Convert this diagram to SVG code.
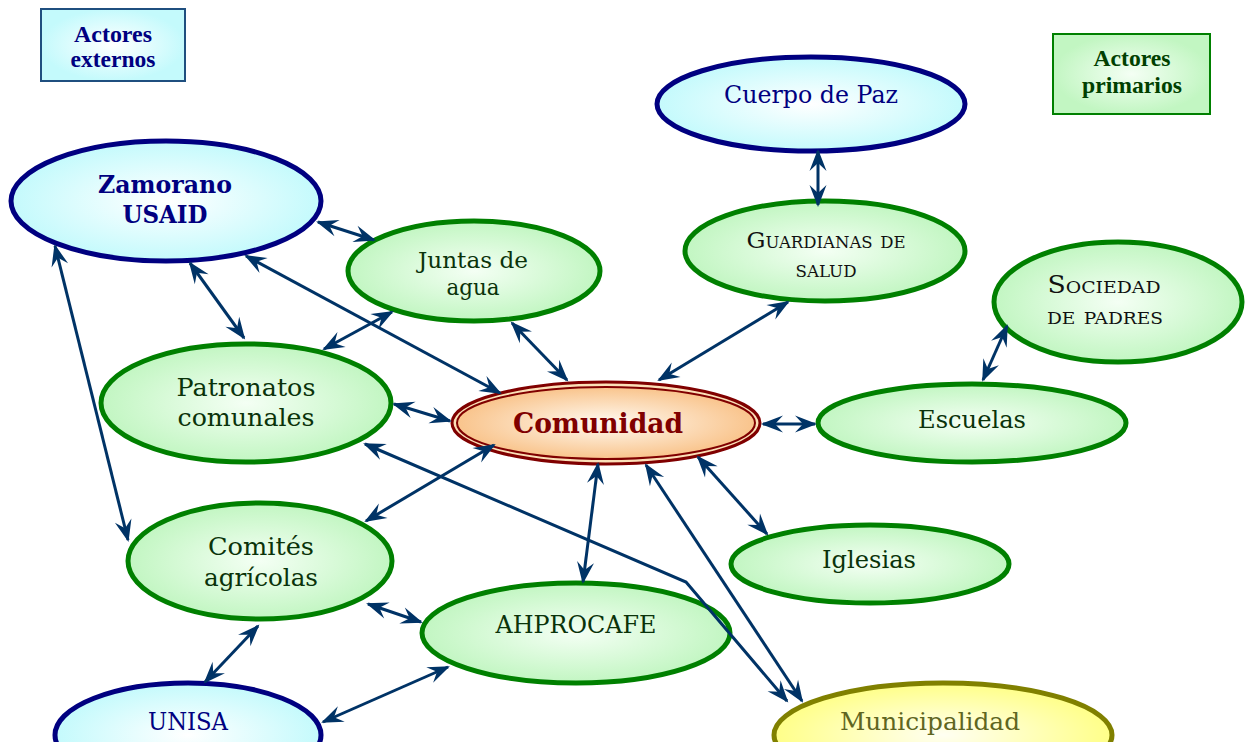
<svg xmlns="http://www.w3.org/2000/svg" width="1246" height="742" viewBox="0 0 1246 742">
<defs>
<radialGradient id="gBlue"><stop offset="0" stop-color="#ffffff"/><stop offset="1" stop-color="#c4fafc"/></radialGradient>
<radialGradient id="gGreen"><stop offset="0" stop-color="#f4fff4"/><stop offset="1" stop-color="#c2f6c2"/></radialGradient>
<radialGradient id="gOrange"><stop offset="0" stop-color="#fffaf2"/><stop offset="1" stop-color="#f9c48c"/></radialGradient>
<radialGradient id="gYellow"><stop offset="0" stop-color="#fffff2"/><stop offset="1" stop-color="#ffff88"/></radialGradient>
<marker id="ah" viewBox="-24 -10 28 20" refX="0" refY="0" markerWidth="28" markerHeight="20" markerUnits="userSpaceOnUse" orient="auto-start-reverse">
<path d="M2,0 L-20,-8.5 L-12,0 L-20,8.5 Z" fill="#003366"/>
</marker>
<style>
.ext{fill:url(#gBlue);stroke:#000080;stroke-width:5}
.pri{fill:url(#gGreen);stroke:#008000;stroke-width:5}
.t{font-family:"DejaVu Serif",serif;text-anchor:middle}
.tb{font-family:"DejaVu Serif",serif;text-anchor:middle;font-weight:bold}
.tn{fill:#000080}
.tg{fill:#0a330a}
.tk{fill:#111111}
.lg{font-family:"Liberation Serif",serif;font-weight:bold;font-size:23px;text-anchor:middle}
.c{fill:none;stroke:#003366;stroke-width:3;marker-start:url(#ah);marker-end:url(#ah)}
</style>
</defs>
<rect width="1246" height="742" fill="#ffffff"/>

<g id="legend-externos">
<rect x="41" y="9" width="144" height="72" fill="url(#gBlue)" stroke="#1f4f7f" stroke-width="2"/>
<text class="lg" x="113" y="42" fill="#000080" textLength="78" lengthAdjust="spacingAndGlyphs">Actores</text>
<text class="lg" x="113" y="67" fill="#000080" textLength="85" lengthAdjust="spacingAndGlyphs">externos</text>
</g>
<g id="legend-primarios">
<rect x="1053" y="34" width="157" height="80" fill="url(#gGreen)" stroke="#008000" stroke-width="2"/>
<text class="lg" x="1132" y="66" fill="#004000" textLength="77" lengthAdjust="spacingAndGlyphs">Actores</text>
<text class="lg" x="1132" y="93" fill="#004000" textLength="100" lengthAdjust="spacingAndGlyphs">primarios</text>
</g>

<g id="cuerpo-de-paz">
<ellipse class="ext" cx="811" cy="104" rx="154" ry="47"/>
<text class="t tn" x="811" y="103" font-size="24" textLength="174" lengthAdjust="spacingAndGlyphs">Cuerpo de Paz</text>
</g>
<g id="zamorano-usaid">
<ellipse class="ext" cx="166" cy="201" rx="155" ry="60"/>
<text class="tb tn" x="165" y="193" font-size="24" textLength="134" lengthAdjust="spacingAndGlyphs">Zamorano</text>
<text class="tb tn" x="165" y="223" font-size="24" textLength="85" lengthAdjust="spacingAndGlyphs">USAID</text>
</g>
<g id="juntas-de-agua">
<ellipse class="pri" cx="474" cy="271" rx="126" ry="50"/>
<text class="t tg" x="473" y="268" font-size="22" textLength="110" lengthAdjust="spacingAndGlyphs">Juntas de</text>
<text class="t tg" x="473" y="295" font-size="22" textLength="53" lengthAdjust="spacingAndGlyphs">agua</text>
</g>
<g id="guardianas-de-salud">
<ellipse class="pri" cx="825" cy="251" rx="140" ry="50"/>
<text class="t tk" x="826" y="248" font-size="23" font-variant="small-caps" textLength="159" lengthAdjust="spacingAndGlyphs">Guardianas de</text>
<text class="t tk" x="826" y="277" font-size="23" font-variant="small-caps" textLength="61" lengthAdjust="spacingAndGlyphs">salud</text>
</g>
<g id="sociedad-de-padres">
<ellipse class="pri" cx="1118" cy="302" rx="124" ry="60"/>
<text class="t tk" x="1104" y="293" font-size="24" font-variant="small-caps" textLength="113" lengthAdjust="spacingAndGlyphs">Sociedad</text>
<text class="t tk" x="1105" y="324" font-size="24" font-variant="small-caps" textLength="116" lengthAdjust="spacingAndGlyphs">de padres</text>
</g>
<g id="patronatos-comunales">
<ellipse class="pri" cx="246" cy="403" rx="145" ry="59"/>
<text class="t tg" x="246" y="396" font-size="24" textLength="139" lengthAdjust="spacingAndGlyphs">Patronatos</text>
<text class="t tg" x="246" y="426" font-size="24" textLength="137" lengthAdjust="spacingAndGlyphs">comunales</text>
</g>
<g id="comunidad">
<ellipse cx="606" cy="423" rx="154" ry="41" fill="#fbe0b8" stroke="#800000" stroke-width="3"/>
<ellipse cx="606" cy="423" rx="149" ry="36" fill="url(#gOrange)" stroke="#800000" stroke-width="2"/>
<text class="tb" x="598" y="433" font-size="28" fill="#800000" textLength="170" lengthAdjust="spacingAndGlyphs">Comunidad</text>
</g>
<g id="escuelas">
<ellipse class="pri" cx="972" cy="423" rx="154" ry="39"/>
<text class="t tg" x="972" y="428" font-size="24" textLength="108" lengthAdjust="spacingAndGlyphs">Escuelas</text>
</g>
<g id="iglesias">
<ellipse class="pri" cx="870" cy="564" rx="139" ry="39"/>
<text class="t tg" x="869" y="568" font-size="24" textLength="94" lengthAdjust="spacingAndGlyphs">Iglesias</text>
</g>
<g id="comites-agricolas">
<ellipse class="pri" cx="260" cy="561" rx="132" ry="58"/>
<text class="t tg" x="261" y="555" font-size="24" textLength="106" lengthAdjust="spacingAndGlyphs">Comités</text>
<text class="t tg" x="261" y="586" font-size="24" textLength="114" lengthAdjust="spacingAndGlyphs">agrícolas</text>
</g>
<g id="ahprocafe">
<ellipse class="pri" cx="576" cy="633" rx="154" ry="50"/>
<text class="t tg" x="576" y="633" font-size="24" textLength="161" lengthAdjust="spacingAndGlyphs">AHPROCAFE</text>
</g>
<g id="unisa">
<ellipse class="ext" cx="188" cy="735" rx="133" ry="52"/>
<text class="t tn" x="188" y="730" font-size="24" textLength="80" lengthAdjust="spacingAndGlyphs">UNISA</text>
</g>
<g id="municipalidad">
<ellipse cx="943" cy="735" rx="169" ry="52" fill="url(#gYellow)" stroke="#808000" stroke-width="5"/>
<text class="t" x="930" y="730" font-size="24" fill="#5f661f" textLength="180" lengthAdjust="spacingAndGlyphs">Municipalidad</text>
</g>

<g id="connectors">
<path class="c" d="M818,151 L818,205"/>
<path class="c" d="M318,222 L374,240"/>
<path class="c" d="M190,263 L244,338"/>
<path class="c" d="M246,256 L500,393"/>
<path class="c" d="M55,246 L128,540"/>
<path class="c" d="M392,312 L324,349"/>
<path class="c" d="M512,323 L567,380"/>
<path class="c" d="M788,302 L659,380"/>
<path class="c" d="M1007,326 L983,380"/>
<path class="c" d="M763,424 L815,424"/>
<path class="c" d="M394,404 L450,421"/>
<path class="c" d="M365,444 L686,582 L787,701"/>
<path class="c" d="M494,445 L366,521"/>
<path class="c" d="M598,464 L583,582"/>
<path class="c" d="M646,465 L802,701"/>
<path class="c" d="M698,457 L767,534"/>
<path class="c" d="M368,604 L421,622"/>
<path class="c" d="M258,626 L205,682"/>
<path class="c" d="M323,722 L448,667"/>
</g>
</svg>
